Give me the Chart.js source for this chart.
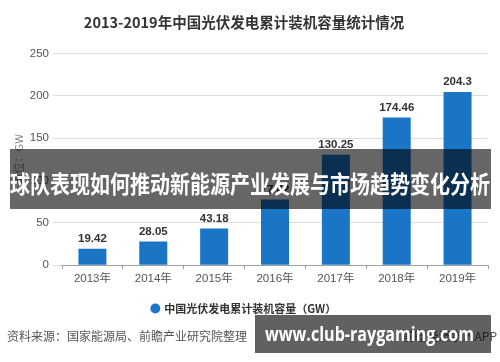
<!DOCTYPE html>
<html>
<head>
<meta charset="utf-8">
<script src="https://cdn.jsdelivr.net/npm/chart.js@4.4.0/dist/chart.umd.min.js"></script>
<style>
  html, body { margin: 0; padding: 0; background: #fff; }
  #wrap { position: relative; width: 500px; height: 362px; overflow: hidden; }
  canvas { position: absolute; left: 0; top: 0; }
  .src { position: absolute; left: 7px; top: 328px; font: 12px "Noto Sans CJK SC", sans-serif; color: #555; white-space: nowrap; line-height: 16px; }
  .app { position: absolute; right: 3px; top: 328px; font: 12px "Noto Sans CJK SC", sans-serif; color: #555; white-space: nowrap; line-height: 16px; }
  .banner { position: absolute; left: 10px; top: 149px; width: 481px; height: 60px; background: rgba(0,0,0,0.6); overflow: hidden; }
  .banner span { position: absolute; left: 0; top: 19px; white-space: nowrap; color: #fff; font: bold 24px "Noto Sans CJK SC", sans-serif; line-height: 30px; transform-origin: 0 0; }
  .url { position: absolute; left: 255px; top: 315px; width: 236px; height: 38px; background: rgba(0,0,0,0.62); }
  .url span { position: absolute; left: 10px; top: 7px; white-space: nowrap; color: #fff; font: bold 20px "Open Sans", sans-serif; line-height: 24px; transform-origin: 0 0; }
</style>
</head>
<body>
<div id="wrap">
  <canvas id="c" width="500" height="362"></canvas>
  <div class="src">资料来源：国家能源局、前瞻产业研究院整理</div>
  <div class="app">前瞻经济学人APP</div>
  <div class="banner"><span id="bt">球队表现如何推动新能源产业发展与市场趋势变化分析</span></div>
  <div class="url"><span id="ut">www.club-raygaming.com</span></div>
</div>
<script>
const categories = ["2013年", "2014年", "2015年", "2016年", "2017年", "2018年", "2019年"];
const capacity = [19.42, 28.05, 43.18, 77.42, 130.25, 174.46, 204.3];
const yTicks = [0, 50, 100, 150, 200, 250];
const seriesName = "中国光伏发电累计装机容量（GW）";
const chartTitle = "2013-2019年中国光伏发电累计装机容量统计情况";
const yTitle = "单位：GW";

const FONT = '"Liberation Sans", "Noto Sans CJK SC", sans-serif';
const CJK = '"Noto Sans CJK SC", sans-serif';

const barLabels = {
  id: 'barLabels',
  afterDatasetsDraw(chart) {
    const ctx = chart.ctx;
    const meta = chart.getDatasetMeta(0);
    ctx.save();
    ctx.font = 'bold 11.5px ' + FONT;
    ctx.fillStyle = '#333';
    ctx.textAlign = 'center';
    ctx.textBaseline = 'middle';
    meta.data.forEach((el, i) => {
      ctx.fillText(String(capacity[i]), el.x, el.y - 10);
    });
    ctx.restore();
  }
};

new Chart(document.getElementById('c'), {
  type: 'bar',
  data: {
    labels: categories,
    datasets: [{
      label: seriesName,
      data: capacity,
      backgroundColor: '#1a75c7',
      borderWidth: 0,
      categoryPercentage: 1,
      barPercentage: 0.46
    }]
  },
  options: {
    responsive: false,
    devicePixelRatio: 1,
    animation: false,
    layout: { padding: { left: 0, right: 12, top: 0, bottom: 38 } },
    plugins: {
      title: {
        display: true,
        text: chartTitle,
        color: '#333',
        font: { family: CJK, size: 14.5, weight: 'bold', lineHeight: 1.2 },
        padding: { top: 14, bottom: 22 }
      },
      legend: {
        display: true,
        position: 'bottom',
        labels: {
          usePointStyle: true,
          pointStyle: 'circle',
          boxWidth: 7,
          boxHeight: 7,
          color: '#333',
          font: { family: CJK, size: 11, weight: 'bold' },
          padding: 14
        }
      },
      tooltip: { enabled: false }
    },
    scales: {
      x: {
        grid: { display: true, drawOnChartArea: false, drawTicks: true, tickLength: 4, color: '#a0a0a0' },
        border: { display: true, color: '#a0a0a0' },
        ticks: { color: '#555', font: { family: FONT, size: 11.5 }, padding: 3 }
      },
      y: {
        min: 0,
        max: 250,
        afterBuildTicks(scale) { scale.ticks = yTicks.map(v => ({ value: v })); },
        afterFit(scale) { scale.width = 62; },
        grid: { color: '#dcdcdc', tickLength: 9, drawTicks: true },
        border: { display: false },
        ticks: { color: '#555', font: { family: FONT, size: 11.5 }, padding: 4 },
        title: { display: true, text: yTitle, color: '#888', font: { family: CJK, size: 11 }, padding: { top: 12, bottom: 0 } }
      }
    }
  },
  plugins: [barLabels]
});

function fit(id, w) {
  const el = document.getElementById(id);
  const r = el.getBoundingClientRect().width;
  el.style.transform = 'scaleX(' + (w / r) + ')';
}
fit('bt', 480);
fit('ut', 209);
</script>
</body>
</html>
